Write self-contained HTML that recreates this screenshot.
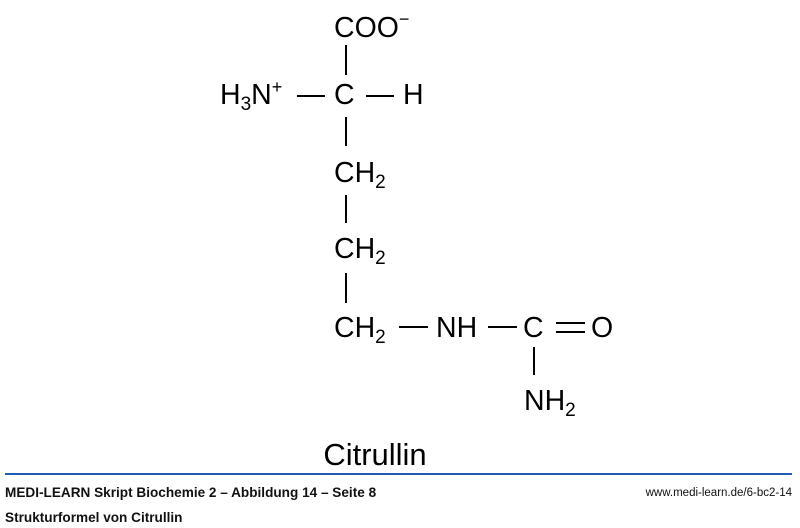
<!DOCTYPE html>
<html><head><meta charset="utf-8"><style>
body{margin:0;background:#fff;width:800px;height:528px;overflow:hidden;position:relative}
svg{position:absolute;left:0;top:0}
.f{position:absolute;font-family:"Liberation Sans Narrow","Liberation Sans",sans-serif;font-weight:bold;font-size:13.6px;color:#111;white-space:nowrap}
</style></head><body>
<svg width="800" height="528" xmlns="http://www.w3.org/2000/svg" font-family="Liberation Sans, Arial, sans-serif" font-size="28.5" fill="#000">
<g stroke="#000" stroke-width="2">
<line x1="346" y1="45" x2="346" y2="75"/>
<line x1="346" y1="117" x2="346" y2="146"/>
<line x1="297" y1="96" x2="325" y2="96"/>
<line x1="366" y1="96" x2="394" y2="96"/>
<line x1="346" y1="195" x2="346" y2="223"/>
<line x1="346" y1="273" x2="346" y2="303"/>
<line x1="399" y1="327" x2="428" y2="327"/>
<line x1="488" y1="327" x2="517" y2="327"/>
<line x1="556" y1="323" x2="585" y2="323"/>
<line x1="556" y1="332" x2="585" y2="332"/>
<line x1="534" y1="347" x2="534" y2="375"/>
</g>
<text x="334" y="37">COO<tspan font-size="18" dy="-12">−</tspan></text>
<text x="220" y="104">H<tspan font-size="19" dy="6">3</tspan><tspan dy="-6">N</tspan><tspan font-size="18" dy="-11">+</tspan></text>
<text x="334" y="104">C</text>
<text x="403" y="104">H</text>
<text x="334" y="182">CH<tspan font-size="19" dy="6">2</tspan></text>
<text x="334" y="258">CH<tspan font-size="19" dy="6">2</tspan></text>
<text x="334" y="337">CH<tspan font-size="19" dy="6">2</tspan></text>
<text x="436" y="337">NH</text>
<text x="523" y="337">C</text>
<text x="591" y="337">O</text>
<text x="524" y="410">NH<tspan font-size="19" dy="6">2</tspan></text>
<text x="375" y="465" text-anchor="middle" font-size="31" transform="translate(375 0) scale(1.0 1) translate(-375 0)">Citrullin</text>
<rect x="5" y="473" width="787" height="2" fill="#1f5bb5"/>
</svg>
<div class="f" style="left:5px;top:485px">MEDI-LEARN Skript Biochemie 2 – Abbildung 14 – Seite 8</div>
<div class="f" style="left:5px;top:510px">Strukturformel von Citrullin</div>
<div class="f" style="right:8px;top:487px;font-weight:normal;font-size:11.5px">www.medi-learn.de/6-bc2-14</div>
</body></html>
